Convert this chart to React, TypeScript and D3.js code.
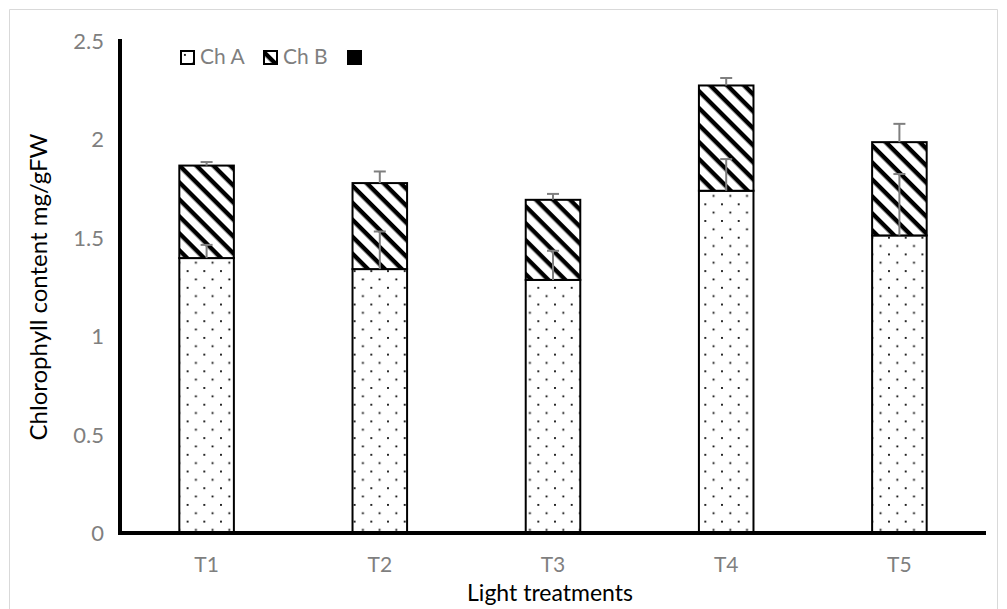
import { useEffect, useRef } from "react"
import * as d3 from "d3"

const categories = ["T1", "T2", "T3", "T4", "T5"]
const chA = [1.397, 1.341, 1.286, 1.739, 1.512]
const chB = [0.47, 0.437, 0.407, 0.535, 0.474]
const chAErr = [0.067, 0.191, 0.148, 0.161, 0.312]
const chBErr = [0.018, 0.059, 0.03, 0.038, 0.093]
const yTicks = [0, 0.5, 1, 1.5, 2, 2.5]

const W = 1007
const H = 609
const PLOT = { left: 120, right: 986, top: 41, bottom: 533 }
const FONT = "Lato, 'Open Sans', sans-serif"
const GRAY = "#7f7f7f"

export default function App() {
  const svgRef = useRef<SVGSVGElement>(null)

  useEffect(() => {
    if (!svgRef.current) return
    const svg = d3.select(svgRef.current)
    svg.selectAll("*").remove()

    // patterns
    const defs = svg.append("defs")
    const dots = defs
      .append("pattern")
      .attr("id", "dots")
      .attr("patternUnits", "userSpaceOnUse")
      .attr("width", 16.7)
      .attr("height", 16.7)
    dots.append("rect").attr("width", 16.7).attr("height", 16.7).attr("fill", "#fff")
    dots.append("rect").attr("x", 3).attr("y", 3).attr("width", 1.8).attr("height", 1.8).attr("fill", "#000")
    dots.append("rect").attr("x", 11.3).attr("y", 11.3).attr("width", 1.8).attr("height", 1.8).attr("fill", "#000")

    const hatch = defs
      .append("pattern")
      .attr("id", "hatch")
      .attr("patternUnits", "userSpaceOnUse")
      .attr("width", 12)
      .attr("height", 12)
      .attr("patternTransform", "rotate(45)")
    hatch.append("rect").attr("width", 12).attr("height", 12).attr("fill", "#fff")
    hatch.append("rect").attr("x", 0).attr("y", 0).attr("width", 12).attr("height", 4.4).attr("fill", "#000")

    // chart frame
    svg.append("path")
      .attr("d", `M9.5,${H + 5} V9.5 H997.5 V${H + 5}`)
      .attr("fill", "none")
      .attr("stroke", "#d9d9d9")
      .attr("stroke-width", 1)

    const x = d3.scaleBand<string>().domain(categories).range([PLOT.left, PLOT.right]).padding(0)
    const y = d3.scaleLinear().domain([0, 2.5]).range([PLOT.bottom, PLOT.top])
    const bw = x.step() * 0.315
    const cx = (c: string) => (x(c) as number) + x.bandwidth() / 2

    // y tick labels
    svg.append("g")
      .selectAll("text")
      .data(yTicks)
      .join("text")
      .attr("x", 104)
      .attr("y", (d) => y(d) + 8)
      .attr("text-anchor", "end")
      .attr("font-family", FONT)
      .attr("font-size", 22)
      .attr("fill", GRAY)
      .text((d) => String(d))

    // x tick labels
    svg.append("g")
      .selectAll("text")
      .data(categories)
      .join("text")
      .attr("x", (d) => cx(d))
      .attr("y", 572)
      .attr("text-anchor", "middle")
      .attr("font-family", FONT)
      .attr("font-size", 21)
      .attr("fill", GRAY)
      .text((d) => d)

    // stacked bars
    const bars = svg.append("g")
    bars.selectAll("rect.a")
      .data(categories)
      .join("rect")
      .attr("class", "a")
      .attr("x", (d) => cx(d) - bw / 2)
      .attr("y", (_, i) => y(chA[i]))
      .attr("width", bw)
      .attr("height", (_, i) => y(0) - y(chA[i]))
      .attr("fill", "url(#dots)")
      .attr("stroke", "#000")
      .attr("stroke-width", 2)
    bars.selectAll("rect.b")
      .data(categories)
      .join("rect")
      .attr("class", "b")
      .attr("x", (d) => cx(d) - bw / 2)
      .attr("y", (_, i) => y(chA[i] + chB[i]))
      .attr("width", bw)
      .attr("height", (_, i) => y(chA[i]) - y(chA[i] + chB[i]))
      .attr("fill", "url(#hatch)")
      .attr("stroke", "#000")
      .attr("stroke-width", 2)

    // error bars (plus only)
    const err = svg.append("g").attr("stroke", GRAY).attr("stroke-width", 2)
    const drawErr = (base: number[], e: number[]) => {
      categories.forEach((c, i) => {
        const x0 = cx(c)
        err.append("line").attr("x1", x0).attr("x2", x0).attr("y1", y(base[i])).attr("y2", y(base[i] + e[i]))
        err.append("line").attr("x1", x0 - 6).attr("x2", x0 + 6).attr("y1", y(base[i] + e[i])).attr("y2", y(base[i] + e[i]))
      })
    }
    drawErr(chA, chAErr)
    drawErr(chA.map((v, i) => v + chB[i]), chBErr)

    // axes lines
    svg.append("path")
      .attr("d", `M${PLOT.left},${PLOT.top - 2} V${PLOT.bottom} H${PLOT.right}`)
      .attr("fill", "none")
      .attr("stroke", "#000")
      .attr("stroke-width", 4)

    // axis titles
    svg.append("text")
      .attr("transform", `translate(47,${(PLOT.top + PLOT.bottom) / 2}) rotate(-90)`)
      .attr("text-anchor", "middle")
      .attr("font-family", FONT)
      .attr("font-size", 24)
      .attr("fill", "#000")
      .text("Chlorophyll content mg/gFW")
    svg.append("text")
      .attr("x", 550)
      .attr("y", 601)
      .attr("text-anchor", "middle")
      .attr("font-family", FONT)
      .attr("font-size", 23)
      .attr("fill", "#000")
      .text("Light treatments")

    // legend
    const legend = svg.append("g").attr("transform", "translate(181,51)")
    const items = [
      { label: "Ch A", fill: "url(#dots)", x: 0 },
      { label: "Ch B", fill: "url(#hatch)", x: 83 },
      { label: "", fill: "#000", x: 167 },
    ]
    items.forEach((it) => {
      legend.append("rect")
        .attr("x", it.x)
        .attr("y", 0)
        .attr("width", 13)
        .attr("height", 13)
        .attr("fill", it.fill)
        .attr("stroke", "#000")
        .attr("stroke-width", 2)
      if (it.label)
        legend.append("text")
          .attr("x", it.x + 19)
          .attr("y", 13)
          .attr("font-family", FONT)
          .attr("font-size", 21)
          .attr("fill", GRAY)
          .text(it.label)
    })
  }, [])

  return (
    <svg
      ref={svgRef}
      width={W}
      height={H}
      style={{ position: "absolute", left: 0, top: 0, background: "#fff" }}
    />
  )
}
